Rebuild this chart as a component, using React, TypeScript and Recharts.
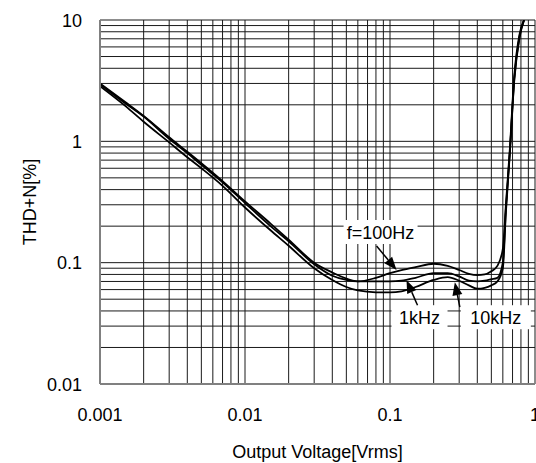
import React from "react";
import {
  LineChart,
  Line,
  XAxis,
  YAxis,
  ReferenceLine,
  ReferenceDot,
} from "recharts";

// output voltage [Vrms]
const voltage = [
  0.001, 0.0015, 0.002, 0.003, 0.004, 0.005, 0.007, 0.01, 0.015, 0.02, 0.03,
  0.04, 0.05, 0.06, 0.08, 0.1, 0.12, 0.15, 0.2, 0.25, 0.3, 0.35, 0.4, 0.45,
  0.5, 0.55, 0.6, 0.63, 0.67, 0.72, 0.78, 0.84,
];

// THD+N [%]
const thd100Hz = [
  3.0, 2.1, 1.62, 1.08, 0.82, 0.66, 0.47, 0.32, 0.21, 0.155, 0.1, 0.083, 0.074,
  0.07, 0.075, 0.082, 0.087, 0.092, 0.098, 0.094, 0.087, 0.081, 0.079, 0.08,
  0.085, 0.094, 0.13, 0.3, 0.85, 3.5, 7.5, 10,
];
const thd1kHz = [
  2.95, 2.05, 1.6, 1.05, 0.8, 0.64, 0.46, 0.31, 0.2, 0.15, 0.097, 0.078, 0.072,
  0.07, 0.07, 0.07, 0.071, 0.075, 0.082, 0.082, 0.077, 0.071, 0.07, 0.071,
  0.073, 0.075, 0.1, 0.28, 0.8, 3.3, 7.2, 10,
];
const thd10kHz = [
  2.85, 1.95, 1.45, 0.98, 0.74, 0.6, 0.43, 0.285, 0.185, 0.138, 0.09, 0.072,
  0.063, 0.059, 0.057, 0.057, 0.058, 0.063, 0.072, 0.076, 0.071, 0.065, 0.061,
  0.062, 0.065, 0.07, 0.09, 0.26, 0.78, 3.2, 7, 10,
];

const xTicks = [0.001, 0.01, 0.1, 1];
const yTicks = [0.01, 0.1, 1, 10];

const xGrid = [
  0.002, 0.003, 0.004, 0.005, 0.006, 0.007, 0.008, 0.009, 0.01, 0.02, 0.03,
  0.04, 0.05, 0.06, 0.07, 0.08, 0.09, 0.1, 0.2, 0.3, 0.4, 0.5, 0.6, 0.7, 0.8,
  0.9, 1,
];
const yGrid = [
  0.02, 0.03, 0.04, 0.05, 0.06, 0.07, 0.08, 0.09, 0.1, 0.2, 0.3, 0.4, 0.5, 0.6,
  0.7, 0.8, 0.9, 1, 2, 3, 4, 5, 6, 7, 8, 9, 10,
];

const rows = voltage.map((v, i) => ({
  v,
  f100: thd100Hz[i],
  f1k: thd1kHz[i],
  f10k: thd10kHz[i],
}));

const FONT = "'Liberation Sans', Arial, sans-serif";
const FS = 18;

// callouts: arrow tip sits on the curve, text/box offsets in px
const callouts = [
  { text: "f=100Hz", x: 0.111, y: 0.087, tail: [-20, -24], label: [-16, -38], w: 74 },
  { text: "1kHz", x: 0.13, y: 0.0717, tail: [11, 25], label: [13, 37], w: 56 },
  { text: "10kHz", x: 0.28, y: 0.069, tail: [5, 25], label: [41, 35], w: 70 },
];

const XTick = ({ x, y, payload }: any) => (
  <text x={x} y={y + 37} textAnchor="middle" fontSize={FS} fontFamily={FONT} fill="#000">
    {String(payload.value)}
  </text>
);

const YTick = ({ x, y, payload }: any) => (
  <text x={x - 18} y={y + 6.5} textAnchor="end" fontSize={FS} fontFamily={FONT} fill="#000">
    {String(payload.value)}
  </text>
);

const BoxShape = ({ cx, cy, c }: any) => (
  <rect
    x={cx + c.label[0] - c.w / 2}
    y={cy + c.label[1] - 12}
    width={c.w}
    height={24}
    fill="#fff"
  />
);

const ArrowShape = ({ cx, cy, c }: any) => {
  const tx = cx + c.tail[0];
  const ty = cy + c.tail[1];
  const dx = cx - tx;
  const dy = cy - ty;
  const len = Math.sqrt(dx * dx + dy * dy);
  const ux = dx / len;
  const uy = dy / len;
  const bx = cx - ux * 13;
  const by = cy - uy * 13;
  const nx = -uy * 5;
  const ny = ux * 5;
  return (
    <g>
      <line x1={tx} y1={ty} x2={bx} y2={by} stroke="#000" strokeWidth={1.5} />
      <polygon
        points={`${cx},${cy} ${bx + nx},${by + ny} ${bx - nx},${by - ny}`}
        fill="#000"
      />
      <text
        x={cx + c.label[0]}
        y={cy + c.label[1] + 6.5}
        textAnchor="middle"
        fontSize={FS}
        fontFamily={FONT}
        fill="#000"
      >
        {c.text}
      </text>
    </g>
  );
};

export default function App() {
  return (
    <div style={{ position: "absolute", left: 0, top: 0, width: 536, height: 463, background: "#fff" }}>
      <LineChart
        width={536}
        height={463}
        data={rows}
        margin={{ top: 20, right: 1, bottom: 0, left: 0 }}
      >
        <XAxis
          dataKey="v"
          type="number"
          scale="log"
          domain={[0.001, 1]}
          allowDataOverflow
          ticks={xTicks}
          interval={0}
          tickSize={0}
          tickMargin={0}
          height={79}
          tick={<XTick />}
          axisLine={{ stroke: "#808080", strokeWidth: 2 }}
          label={({ viewBox }: any) => (
            <text
              x={viewBox.x + viewBox.width / 2}
              y={458}
              textAnchor="middle"
              fontSize={FS}
              fontFamily={FONT}
              fill="#000"
            >
              Output Voltage[Vrms]
            </text>
          )}
        />
        <YAxis
          type="number"
          scale="log"
          domain={[0.01, 10]}
          allowDataOverflow
          ticks={yTicks}
          interval={0}
          tickSize={0}
          tickMargin={0}
          width={100}
          tick={<YTick />}
          axisLine={{ stroke: "#808080", strokeWidth: 2 }}
          label={({ viewBox }: any) => {
            const cy = viewBox.y + viewBox.height / 2;
            return (
              <text
                x={30}
                y={cy}
                transform={`rotate(-90 30 ${cy})`}
                textAnchor="middle"
                dominantBaseline="central"
                fontSize={FS}
                fontFamily={FONT}
                fill="#000"
              >
                THD+N[%]
              </text>
            );
          }}
        />
        {xGrid.map((g) => (
          <ReferenceLine key={"x" + g} x={g} stroke="#1a1a1a" strokeWidth={1} />
        ))}
        {yGrid.map((g) => (
          <ReferenceLine key={"y" + g} y={g} stroke="#1a1a1a" strokeWidth={1} />
        ))}
        {callouts.map((c) => (
          <ReferenceDot
            key={"b" + c.text}
            x={c.x}
            y={c.y}
            r={0}
            shape={(p: any) => <BoxShape {...p} c={c} />}
          />
        ))}
        <Line type="monotone" dataKey="f100" stroke="#000" strokeWidth={1.8} dot={false} isAnimationActive={false} />
        <Line type="monotone" dataKey="f1k" stroke="#000" strokeWidth={1.8} dot={false} isAnimationActive={false} />
        <Line type="monotone" dataKey="f10k" stroke="#000" strokeWidth={1.8} dot={false} isAnimationActive={false} />
        {callouts.map((c) => (
          <ReferenceDot
            key={"a" + c.text}
            x={c.x}
            y={c.y}
            r={0}
            shape={(p: any) => <ArrowShape {...p} c={c} />}
          />
        ))}
      </LineChart>
    </div>
  );
}
